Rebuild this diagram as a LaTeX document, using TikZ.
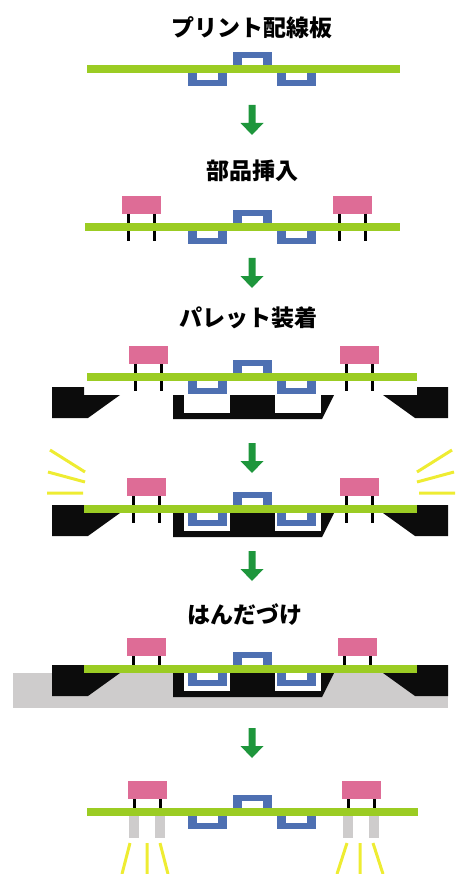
\documentclass[tikz,border=0pt]{standalone}
\usepackage{fontspec}
\newfontfamily\jpfont{Noto Sans CJK JP}

\definecolor{boardgreen}{RGB}{155,204,35}
\definecolor{smdblue}{RGB}{78,112,178}
\definecolor{partpink}{RGB}{222,108,150}
\definecolor{palletblack}{RGB}{12,12,12}
\definecolor{solder}{RGB}{206,204,204}
\definecolor{raysyellow}{RGB}{238,236,50}
\definecolor{arrowgreen}{RGB}{30,150,60}

\begin{document}
\begin{tikzpicture}[x=1pt,y=-1pt]
\tikzstyle{title} = [font=\jpfont\bfseries\fontsize{23}{28}\selectfont, inner sep=0pt]
\tikzstyle{lead} = [draw=black, line width=3pt]
\tikzstyle{ray} = [draw=raysyellow, line width=3pt]
\tikzset{
  smd/.pic={
    \fill[smdblue] (233,-13) rectangle (272,0);
    \fill[white] (242,-7) rectangle (263,0);
    \foreach \x in {188,277} {
      \fill[smdblue] (\x,8) rectangle ++(39,13);
      \fill[white] (\x+9,8) rectangle ++(21,7);
    }
  },
  tht/.pic={
    \fill[partpink] (0,-27) rectangle (39,-9);
    \draw[lead] (6,-9) -- (6,0) (32,-9) -- (32,0);
  },
  pallet/.pic={
    \fill[palletblack] (52,0) -- (84,0) -- (84,8) -- (120,8) -- (88,31) -- (52,31) -- cycle;
    \fill[palletblack] (448,0) -- (417,0) -- (417,8) -- (383,8) -- (415,31) -- (448,31) -- cycle;
    \fill[palletblack] (173,8) -- (334,8) -- (322,32) -- (173,32) -- cycle;
    \fill[white] (184,8) rectangle (230,26);
    \fill[white] (275,8) rectangle (321,26);
  }
}
\useasboundingbox (0,0) rectangle (459,874);

% down arrows between the steps
\foreach \t in {105,258,443,551,728}
  \fill[arrowgreen] (248.5,\t) -- (255.5,\t) -- (255.5,\t+18) -- (263.5,\t+18)
    -- (252,\t+30) -- (240.5,\t+18) -- (248.5,\t+18) -- cycle;

% bare board
\node[title] (tBoard) at (252,28) {プリント配線板};
\begin{scope}[shift={(0,65)}]
  \fill[boardgreen] (87,0) rectangle (400,8);
  \pic {smd};
\end{scope}

% parts inserted
\node[title] (tInsert) at (252,171) {部品挿入};
\begin{scope}[shift={(0,223)}]
  \fill[boardgreen] (85,0) rectangle (400,8);
  \pic {smd};
  \pic at (122,0) {tht};
  \pic at (333,0) {tht};
  \foreach \x in {128,154,339,365} \draw[lead] (\x,8) -- (\x,18);
\end{scope}

% pallet mounted
\node[title] (tPallet) at (248,318) {パレット装着};
\begin{scope}[shift={(0,387)}]
  \pic {pallet};
\end{scope}
\begin{scope}[shift={(0,373)}]
  \fill[boardgreen] (87,0) rectangle (417,8);
  \pic {smd};
  \pic at (129,0) {tht};
  \pic at (340,0) {tht};
  \foreach \x in {135,161,346,372} \draw[lead] (\x,8) -- (\x,18);
\end{scope}

% board seated in the pallet
\begin{scope}[shift={(0,505)}]
  \pic {pallet};
  \fill[boardgreen] (84,0) rectangle (417,8);
  \pic {smd};
  \pic at (127,0) {tht};
  \pic at (340,0) {tht};
  \foreach \x in {133,159,346,372} \draw[lead] (\x,8) -- (\x,18);
  \draw[ray] (50,-55) -- (85,-33) (48,-33) -- (85,-23) (47,-12) -- (83,-12);
  \draw[ray] (452,-55) -- (417,-33) (454,-33) -- (417,-23) (455,-12) -- (419,-12);
\end{scope}

% soldering
\node[title] (tSolder) at (245,615) {はんだづけ};
\begin{scope}[shift={(0,665)}]
  \fill[solder] (13,8) rectangle (448,43);
  \pic {pallet};
  \fill[boardgreen] (84,0) rectangle (417,8);
  \pic {smd};
  \pic at (127,0) {tht};
  \pic at (338,0) {tht};
\end{scope}

% finished board
\begin{scope}[shift={(0,808)}]
  \fill[boardgreen] (87,0) rectangle (418,8);
  \pic {smd};
  \pic at (128,0) {tht};
  \pic at (342,0) {tht};
  \foreach \x in {134,160,348,374} \fill[solder] (\x-5,8) rectangle (\x+5,30);
  \draw[ray] (130,35) -- (122,66) (147,35) -- (147,66) (160,35) -- (168,66);
  \draw[ray] (347,35) -- (337,66) (360,35) -- (360,66) (373,35) -- (383,66);
\end{scope}
\end{tikzpicture}
\end{document}
